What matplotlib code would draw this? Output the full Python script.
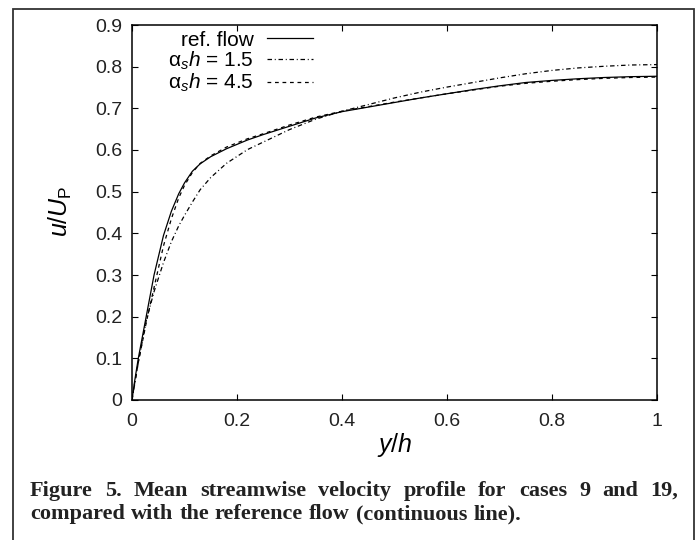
import matplotlib
matplotlib.use("Agg")
import matplotlib.pyplot as plt
from matplotlib.patches import Rectangle

# profile data
y_h = [0, 0.005, 0.012, 0.027, 0.042, 0.06, 0.075, 0.089, 0.1, 0.115, 0.13, 0.15,
       0.18, 0.22, 0.25, 0.3, 0.35, 0.4, 0.45, 0.5, 0.55, 0.6, 0.65, 0.7, 0.75,
       0.8, 0.85, 0.9, 0.95, 1.0]
u_ref = [0, 0.045, 0.10, 0.20, 0.30, 0.395, 0.453, 0.495, 0.521, 0.549, 0.567, 0.584,
         0.603, 0.624, 0.637, 0.657, 0.677, 0.692, 0.703, 0.714, 0.725, 0.735, 0.745,
         0.754, 0.762, 0.767, 0.771, 0.774, 0.776, 0.777]
u_15 = [0, 0.037, 0.09, 0.19, 0.26, 0.33, 0.38, 0.418, 0.443, 0.475, 0.505, 0.534,
        0.568, 0.601, 0.619, 0.649, 0.674, 0.693, 0.709, 0.725, 0.739, 0.751, 0.762,
        0.773, 0.783, 0.791, 0.797, 0.801, 0.804, 0.805]
u_45 = [0, 0.04, 0.09, 0.185, 0.27, 0.37, 0.435, 0.485, 0.515, 0.546, 0.568, 0.586,
        0.607, 0.627, 0.639, 0.66, 0.679, 0.693, 0.704, 0.715, 0.725, 0.735, 0.744,
        0.753, 0.760, 0.765, 0.769, 0.772, 0.774, 0.775]
labels = ["ref. flow", r"α$_{s}$$h$ = 1.5", r"α$_{s}$$h$ = 4.5"]
xticks = [0, 0.2, 0.4, 0.6, 0.8, 1]
yticks = [0, 0.1, 0.2, 0.3, 0.4, 0.5, 0.6, 0.7, 0.8, 0.9]

plt.rcParams["font.family"] = "Liberation Sans"
plt.rcParams["mathtext.fontset"] = "custom"
plt.rcParams["mathtext.rm"] = "Liberation Sans"
plt.rcParams["mathtext.it"] = "Liberation Sans:italic"

W, H = 697, 540
fig = plt.figure(figsize=(W / 100, H / 100), dpi=100)

# outer frame
fig.add_artist(Rectangle((13 / W, -0.1), (694 - 13) / W, (540 - 9) / H + 0.1,
                         transform=fig.transFigure, fill=False, ec="#333333", lw=1.3))

ax = fig.add_axes([132 / W, (H - 400) / H, 525 / W, 375 / H])
ax.plot(y_h, u_ref, color="black", lw=0.9, label=labels[0])
ax.plot(y_h, u_15, color="black", lw=0.9, dashes=(3.6, 2.2, 0.8, 2.2), label=labels[1])
ax.plot(y_h, u_45, color="black", lw=0.9, dashes=(3.0, 3.0), label=labels[2])

ax.set_xlim(0, 1)
ax.set_ylim(0, 0.9)
ax.set_xticks(xticks)
ax.set_xticklabels([f"{t:g}" for t in xticks])
ax.set_yticks(yticks)
ax.set_yticklabels([f"{t:g}" for t in yticks])
ax.tick_params(direction="in", top=True, right=True, length=4.5, width=0.8,
               labelsize=14, labelcolor="#222222")
ax.tick_params(axis="y", pad=7)
ax.tick_params(axis="x", pad=9)
for s in ax.spines.values():
    s.set_linewidth(1.1)

ax.set_xlabel(r"$y/h$", fontsize=18, va="center")
ax.xaxis.set_label_coords(0.501, -0.12)
ax.set_ylabel(r"$u/U_{\mathrm{P}}$", fontsize=18, va="center")
ax.yaxis.set_label_coords(-0.137, 0.504)

ax.legend(loc="upper left", bbox_to_anchor=(0.068, 0.985), markerfirst=False,
          frameon=False, fontsize=15, handlelength=2.2, handletextpad=0.65,
          labelspacing=0.0, borderpad=0, borderaxespad=0)

# caption, first line justified
cap_kw = dict(fontfamily="Liberation Serif", fontweight="bold", fontsize=16,
              color="#222222", va="baseline", ha="left")
fig.canvas.draw()
r = fig.canvas.get_renderer()


def put_line(text, yb, x0, x1=None, gap=6):
    words = text.split()
    ts = [fig.text(0, 1 - yb / H, w, **cap_kw) for w in words]
    ws = [t.get_window_extent(r).width for t in ts]
    if x1 is not None:
        gap = (x1 - x0 - sum(ws)) / (len(words) - 1)
    x = x0
    for t, w in zip(ts, ws):
        t.set_x(x / W)
        x += w + gap


put_line("Figure 5. Mean streamwise velocity profile for cases 9 and 19,", 496, 30, 678)
put_line("compared with the reference flow (continuous line).", 519, 30)

fig.savefig("out.png", dpi=100)
